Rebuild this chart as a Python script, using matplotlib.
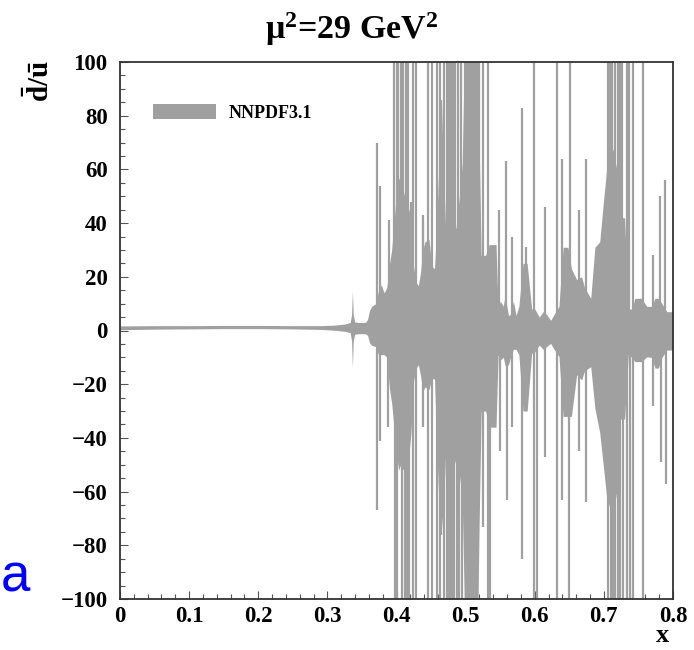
import matplotlib
matplotlib.use("Agg")
import matplotlib.pyplot as plt
from matplotlib.patches import Patch
from matplotlib.ticker import MultipleLocator

plt.rcParams["mathtext.fontset"] = "custom"
plt.rcParams["mathtext.rm"] = "Liberation Serif:bold"
plt.rcParams["mathtext.bf"] = "Liberation Serif:bold"
plt.rcParams["mathtext.it"] = "Liberation Serif:bold"
plt.rcParams["mathtext.default"] = "rm"

# ---------------- data ----------------
title = r"$\mu^{2}$=29 GeV$^{2}$"
y_label = r"$\bar{d}/\bar{u}$"
x_label = "x"
series_label = "NNPDF3.1"

# envelope of the dense uncertainty band: x, upper edge, lower edge
env_x = [0.000, 0.050, 0.100, 0.150, 0.200, 0.250, 0.290, 0.310, 0.325, 0.333,
         0.335, 0.3362, 0.3374, 0.3395, 0.345, 0.355, 0.358, 0.361, 0.364, 0.370,
         0.374, 0.378, 0.382, 0.386, 0.390, 0.393, 0.397, 0.400, 0.403, 0.406,
         0.410, 0.414, 0.418, 0.421, 0.424, 0.428, 0.4316, 0.435, 0.438, 0.441,
         0.447, 0.451, 0.455, 0.458, 0.461, 0.465, 0.468, 0.471, 0.476, 0.481,
         0.486, 0.491, 0.495, 0.498, 0.518, 0.5195, 0.5225, 0.529, 0.534, 0.544,
         0.547, 0.550, 0.5545, 0.557, 0.562, 0.565, 0.569, 0.573, 0.577, 0.583,
         0.589, 0.5955, 0.600, 0.6066, 0.612, 0.617, 0.623, 0.628, 0.635, 0.641,
         0.648, 0.653, 0.6606, 0.6678, 0.672, 0.681, 0.687, 0.694, 0.699, 0.704,
         0.7085, 0.7137, 0.7185, 0.722, 0.730, 0.7353, 0.7402, 0.745, 0.7546, 0.7619,
         0.769, 0.774, 0.7788, 0.784, 0.791, 0.800]
env_hi = [1.7, 1.8, 1.8, 1.9, 1.9, 1.8, 1.8, 2.0, 2.4, 3.0,
          6.0, 14.8, 6.0, 3.2, 3.0, 3.0, 4.0, 7.5, 9.0, 10.0,
          15.0, 17.0, 14.0, 16.0, 25.0, 30.0, 42.0, 52.0, 57.0, 55.0,
          52.0, 47.0, 45.0, 40.0, 25.0, 18.0, 16.7, 22.0, 30.0, 33.0,
          34.0, 24.0, 23.0, 38.0, 60.0, 86.0, 60.0, 38.0, 35.0, 40.0,
          38.0, 50.0, 62.0, 100.0, 100.0, 72.0, 28.0, 28.0, 32.0, 32.0,
          8.0, 11.0, 9.0, 13.0, 5.6, 6.0, 11.0, 5.6, 9.0, 25.0,
          25.0, 8.0, 8.0, 5.0, 7.0, 6.0, 3.8, 6.0, 9.0, 31.0,
          31.0, 23.0, 19.0, 20.0, 16.0, 12.0, 31.0, 33.0, 47.0, 60.0,
          70.0, 67.0, 60.0, 42.0, 42.0, 8.0, 8.0, 12.0, 12.0, 9.0,
          9.0, 12.0, 12.0, 10.0, 7.0, 7.0]
env_lo = [0.3, 0.5, 0.6, 0.7, 0.7, 0.6, 0.4, 0.1, -0.3, -0.8,
          -4.0, -13.8, -4.0, -1.4, -1.2, -1.2, -1.8, -4.5, -5.5, -6.0,
          -9.0, -9.0, -9.0, -10.0, -22.0, -27.0, -38.0, -46.0, -52.0, -50.0,
          -52.0, -55.0, -46.0, -38.0, -20.0, -14.0, -12.8, -17.0, -23.0, -21.0,
          -22.0, -18.0, -18.0, -42.0, -62.0, -74.0, -65.0, -46.0, -42.0, -46.0,
          -50.0, -54.0, -62.0, -100.0, -100.0, -73.0, -30.0, -30.0, -36.0, -36.0,
          -9.0, -11.0, -10.0, -13.0, -12.8, -10.0, -7.0, -7.0, -9.0, -30.0,
          -30.0, -8.5, -8.0, -5.4, -7.0, -6.0, -4.8, -7.0, -9.7, -32.0,
          -32.0, -32.0, -16.5, -18.4, -15.0, -13.5, -29.0, -38.0, -50.0, -62.0,
          -66.0, -68.0, -60.0, -33.0, -33.0, -9.0, -10.0, -11.6, -11.6, -9.8,
          -10.0, -14.0, -14.0, -10.0, -7.3, -7.3]

# narrow replica spikes above the band (x, top value; 100 = off scale)
spike_up_x = [0.3723, 0.3762, 0.389, 0.397, 0.4005, 0.402, 0.4075, 0.407, 0.410, 0.414,
              0.4165, 0.4205, 0.4235, 0.4275, 0.4378, 0.4388, 0.446, 0.4515, 0.458, 0.463,
              0.465, 0.468, 0.4725, 0.475, 0.4775, 0.4798, 0.482, 0.4846, 0.4894, 0.494,
              0.4995, 0.503, 0.506, 0.509, 0.512, 0.515, 0.519, 0.5256, 0.533, 0.5487,
              0.5584, 0.5666, 0.581, 0.5873, 0.5989, 0.6148, 0.6317, 0.6389, 0.651, 0.664,
              0.6736, 0.7064, 0.7088, 0.7115, 0.716, 0.7209, 0.7235, 0.7257, 0.7329, 0.736,
              0.7416, 0.757, 0.7715, 0.7812, 0.7884]
spike_up_top = [70, 54, 41, 100, 100, 100, 58, 100, 100, 100,
                100, 48, 100, 100, 40, 43, 100, 100, 100, 100,
                86, 100, 100, 100, 100, 100, 100, 100, 100, 100,
                100, 100, 100, 100, 100, 100, 100, 100, 100, 45,
                63, 35, 83, 31, 100, 46, 100, 64, 100, 45,
                64, 100, 100, 100, 100, 100, 100, 100, 100, 100,
                100, 100, 28, 50, 56]

# narrow replica spikes below the band (x, bottom value; -100 = off scale)
spike_dn_x = [0.3723, 0.3762, 0.388, 0.3978, 0.401, 0.4074, 0.4123, 0.4147, 0.4185, 0.4234,
              0.4275, 0.4388, 0.446, 0.4515, 0.458, 0.463, 0.465, 0.469, 0.4725, 0.475,
              0.477, 0.4798, 0.4835, 0.487, 0.490, 0.4942, 0.500, 0.504, 0.508, 0.512,
              0.516, 0.5256, 0.533, 0.5355, 0.5497, 0.5593, 0.5666, 0.581, 0.599, 0.6035,
              0.6148, 0.6317, 0.6389, 0.650, 0.664, 0.6736, 0.7064, 0.7098, 0.7115, 0.7137,
              0.716, 0.7209, 0.7235, 0.7281, 0.7329, 0.7375, 0.7426, 0.757, 0.7715, 0.7826,
              0.7894]
spike_dn_bot = [-67, -41, -36, -100, -100, -100, -100, -100, -100, -100,
                -100, -36, -100, -100, -100, -100, -76, -100, -100, -100,
                -100, -100, -100, -100, -100, -100, -100, -100, -100, -100,
                -100, -73, -100, -100, -45, -63, -36, -85, -100, -100,
                -47, -100, -63, -100, -45, -64, -100, -100, -100, -100,
                -100, -100, -100, -100, -100, -100, -100, -100, -28, -49,
                -57]

x_ticks = [0, 0.1, 0.2, 0.3, 0.4, 0.5, 0.6, 0.7, 0.8]
x_ticklabels = ["0", "0.1", "0.2", "0.3", "0.4", "0.5", "0.6", "0.7", "0.8"]
y_ticks = [-100, -80, -60, -40, -20, 0, 20, 40, 60, 80, 100]

# ---------------- figure ----------------
W, H = 694, 650
fig = plt.figure(figsize=(W / 100, H / 100), dpi=100)
L, R, T, B = 120, 673, 62, 599
ax = fig.add_axes([L / W, 1 - B / H, (R - L) / W, (B - T) / H])

band_color = "#a0a0a0"
serif = "Liberation Serif"

ax.fill_between(env_x, env_lo, env_hi, color=band_color, lw=0, zorder=2)
ax.vlines(spike_up_x, 0, spike_up_top, color=band_color, lw=1.6, zorder=2)
ax.vlines(spike_dn_x, spike_dn_bot, 0, color=band_color, lw=1.6, zorder=2)

ax.set_xlim(0, 0.8)
ax.set_ylim(-100, 100)
ax.set_xticks(x_ticks)
ax.set_xticklabels(x_ticklabels)
ax.set_yticks(y_ticks)
ax.xaxis.set_minor_locator(MultipleLocator(0.02))
ax.yaxis.set_minor_locator(MultipleLocator(5))
ax.tick_params(which="both", direction="in", top=False, right=False,
               color="#555555", width=0.8)
ax.tick_params(which="major", length=6)
ax.tick_params(which="minor", length=3.5)
ax.tick_params(axis="y", which="major", pad=9)
ax.tick_params(axis="x", which="major", pad=5)
for lab in ax.get_xticklabels() + ax.get_yticklabels():
    lab.set_fontfamily(serif)
    lab.set_fontweight("bold")
    lab.set_fontsize(16.5)
for sp in ax.spines.values():
    sp.set_linewidth(1.3)
    sp.set_color("#333333")

leg = ax.legend(handles=[Patch(facecolor=band_color, edgecolor="none", label=series_label)],
                loc="upper left", bbox_to_anchor=((153 - L) / (R - L), (B - 104) / (B - T)),
                frameon=False, borderpad=0, borderaxespad=0,
                handlelength=3.5, handleheight=0.9, handletextpad=0.7,
                prop={"family": serif, "weight": "bold", "size": 13})

fig.text(352 / W, 1 - 29 / H, title, ha="center", va="center",
         fontfamily=serif, fontweight="bold", fontsize=24.5)
fig.text(40 / W, 1 - 81 / H, y_label, rotation=90, ha="center", va="center",
         fontfamily=serif, fontweight="bold", fontsize=21)
fig.text(663 / W, 1 - 636 / H, x_label, ha="center", va="center",
         fontfamily=serif, fontweight="bold", fontsize=19)
fig.text(1 / W, 1 - 592 / H, "a", ha="left", va="baseline",
         fontfamily="Liberation Sans", fontsize=38, color="#0000ff")

fig.savefig("out.png", dpi=100)
